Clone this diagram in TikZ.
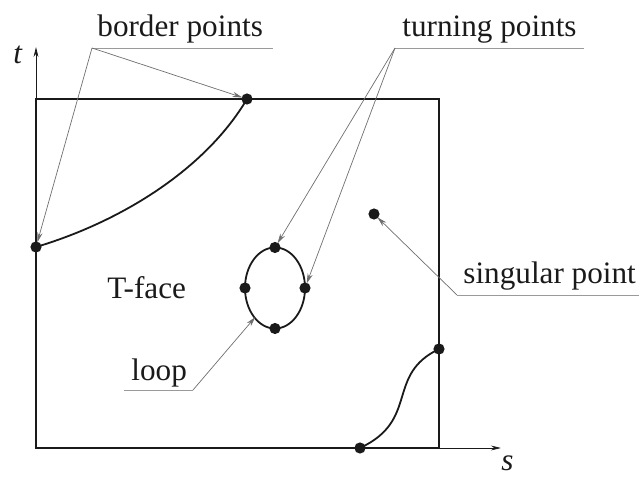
\documentclass[tikz,border=0pt]{standalone}
\usepackage{fontspec}
\setmainfont{Liberation Serif}
\newfontfamily\lblfont{Liberation Serif}
\usetikzlibrary{arrows.meta}
\definecolor{cInk}{HTML}{1A1A1A}
\definecolor{cLead}{HTML}{6E6E6E}
\definecolor{cRule}{HTML}{9A9A9A}
\tikzset{
  face/.style   = {draw=cInk, line width=1pt},
  curve/.style  = {draw=cInk, line width=0.9pt},
  axis/.style   = {draw=cInk, line width=0.4pt, -{Stealth[length=5pt,width=2.4pt]}},
  dot/.style    = {circle, fill=cInk, inner sep=0pt, minimum size=5.6pt},
  lbl/.style    = {anchor=base west, inner sep=0pt, text=cInk, font=\lblfont\fontsize{15.6}{19}\selectfont},
  axlbl/.style  = {lbl, font=\lblfont\fontsize{15.6}{19}\selectfont\itshape},
  leader/.style = {draw=cLead, line width=0.35pt, -{Stealth[length=5pt,width=2.6pt]}, shorten >=-0.6pt},
  underline/.style = {draw=cRule, line width=0.4pt},
}
\begin{document}
\begin{tikzpicture}[x=0.5pt, y=-0.5pt]
  \useasboundingbox (0,0) rectangle (639,477);
  % parameter square and axes
  \coordinate (o) at (36,448);
  \coordinate (tt) at (36,47);
  \coordinate (st) at (501,448);
  \draw[face] (36,99) rectangle (439,448);
  \draw[axis] (o) -- (tt);
  \draw[axis] (o) -- (st);
  \node[axlbl] (tlab) at (13,63) {t};
  \node[axlbl] (slab) at (501,470) {s};
  % border curves
  \node[dot] (bp1) at (247,99) {};
  \node[dot] (bp2) at (36,247) {};
  \draw[curve] (bp1.center) .. controls (205,170) and (120,222) .. (bp2.center);
  \node[dot] (bp3) at (360,448) {};
  \node[dot] (bp4) at (439,349) {};
  \draw[curve] (bp3.center) .. controls (420,420) and (385,375) .. (bp4.center);
  % loop with its turning points
  \draw[curve] (275,288) ellipse [x radius=30, y radius=40.5];
  \node[dot] (tp1) at (275,247.5) {};
  \node[dot] (tp2) at (305,288) {};
  \node[dot] (tp3) at (275,328.5) {};
  \node[dot] (tp4) at (245,288) {};
  \coordinate (lpon) at (254.5,318);
  % singular point
  \node[dot] (sp) at (374,214) {};
  % labels
  \node[lbl] (tface) at (107,298) {T-face};
  \node[lbl] (bptext) at (97,36) {border points};
  \coordinate (bpfoot) at (92,48);
  \coordinate (bpend) at (273,48);
  \draw[underline] (bpfoot) -- (bpend);
  \draw[leader] (bpfoot) -- (bp1);
  \draw[leader] (bpfoot) -- (bp2);
  \node[lbl] (tptext) at (402,36) {turning points};
  \coordinate (tpfoot) at (395,48);
  \coordinate (tpend) at (584,48);
  \draw[underline] (tpfoot) -- (tpend);
  \draw[leader] (tpfoot) -- (tp1);
  \draw[leader] (tpfoot) -- (tp2);
  \node[lbl] (sptext) at (463,283) {singular point};
  \coordinate (spfoot) at (457,295);
  \coordinate (spend) at (639,295);
  \draw[underline] (spfoot) -- (spend);
  \draw[leader] (spfoot) -- (sp);
  \node[lbl] (lptext) at (131,380) {loop};
  \coordinate (lpfoot) at (193,390);
  \coordinate (lpend) at (124,390);
  \draw[underline] (lpend) -- (lpfoot);
  \draw[leader] (lpfoot) -- (lpon);
\end{tikzpicture}
\end{document}
